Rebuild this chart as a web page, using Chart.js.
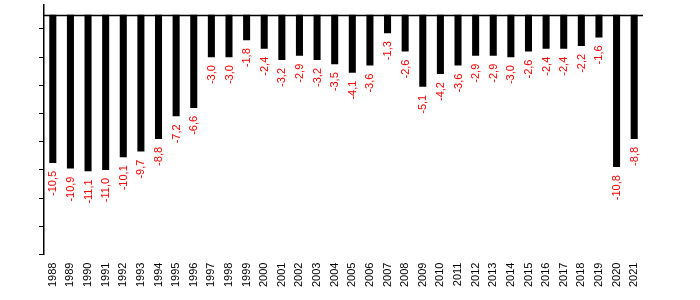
<!DOCTYPE html>
<html>
<head>
<meta charset="utf-8">
<script src="https://cdn.jsdelivr.net/npm/chart.js@4/dist/chart.umd.min.js"></script>
<style>
  html, body { margin: 0; padding: 0; background: #fff; }
  #wrap { width: 700px; height: 300px; }
</style>
</head>
<body>
<div id="wrap"><canvas id="c" width="700" height="300"></canvas></div>
<script>
const years = ["1988","1989","1990","1991","1992","1993","1994","1995","1996","1997","1998","1999","2000","2001","2002","2003","2004","2005","2006","2007","2008","2009","2010","2011","2012","2013","2014","2015","2016","2017","2018","2019","2020","2021"];
const balance = [-10.5,-10.9,-11.1,-11.0,-10.1,-9.7,-8.8,-7.2,-6.6,-3.0,-3.0,-1.8,-2.4,-3.2,-2.9,-3.2,-3.5,-4.1,-3.6,-1.3,-2.6,-5.1,-4.2,-3.6,-2.9,-2.9,-3.0,-2.6,-2.4,-2.4,-2.2,-1.6,-10.8,-8.8];
const yTicks = [-1,-3,-5,-7,-9,-11,-13,-15,-17];
const FONT = '"Liberation Sans Narrow", "Arial Narrow", "Liberation Sans", Arial, sans-serif';

const zeroLine = {
  id: 'zeroLine',
  afterDatasetsDraw(chart) {
    const {ctx, chartArea, scales} = chart;
    const y = Math.round(scales.y.getPixelForValue(0)) + 0.5;
    ctx.save();
    ctx.strokeStyle = '#000';
    ctx.lineWidth = 1.5;
    ctx.beginPath();
    ctx.moveTo(chartArea.left, y);
    ctx.lineTo(chartArea.right, y);
    ctx.stroke();
    ctx.restore();
  }
};

const valueLabels = {
  id: 'valueLabels',
  afterDatasetsDraw(chart) {
    const {ctx} = chart;
    const meta = chart.getDatasetMeta(0);
    ctx.save();
    ctx.fillStyle = '#ff0000';
    ctx.font = '11px ' + FONT;
    ctx.textAlign = 'right';
    ctx.textBaseline = 'middle';
    meta.data.forEach((bar, i) => {
      const v = balance[i];
      const txt = v.toFixed(1).replace('.', ',');
      ctx.save();
      ctx.translate(bar.x + 0.5, bar.y + 8);
      ctx.rotate(-Math.PI / 2);
      ctx.fillText(txt, 0, 0);
      ctx.restore();
    });
    ctx.restore();
  }
};

new Chart(document.getElementById('c'), {
  type: 'bar',
  data: {
    labels: years,
    datasets: [{
      data: balance,
      backgroundColor: '#000',
      borderWidth: 0,
      barPercentage: 0.4,
      categoryPercentage: 1.0
    }]
  },
  options: {
    responsive: false,
    animation: false,
    devicePixelRatio: 1,
    layout: { padding: { left: 39, right: 57, top: 5, bottom: 5 } },
    plugins: { legend: { display: false }, tooltip: { enabled: false } },
    scales: {
      x: {
        grid: { display: false, drawTicks: false },
        border: { display: false },
        ticks: {
          color: '#000',
          font: { family: FONT, size: 11 },
          minRotation: 90,
          maxRotation: 90,
          padding: 8,
          autoSkip: false
        }
      },
      y: {
        min: -17,
        max: 0.7,
        afterBuildTicks(scale) { scale.ticks = yTicks.map(v => ({ value: v })); },
        grid: { drawOnChartArea: false, drawTicks: true, tickLength: 5, color: '#000' },
        border: { display: true, color: '#000', width: 1.5 },
        ticks: { display: false }
      }
    }
  },
  plugins: [zeroLine, valueLabels]
});
</script>
</body>
</html>
